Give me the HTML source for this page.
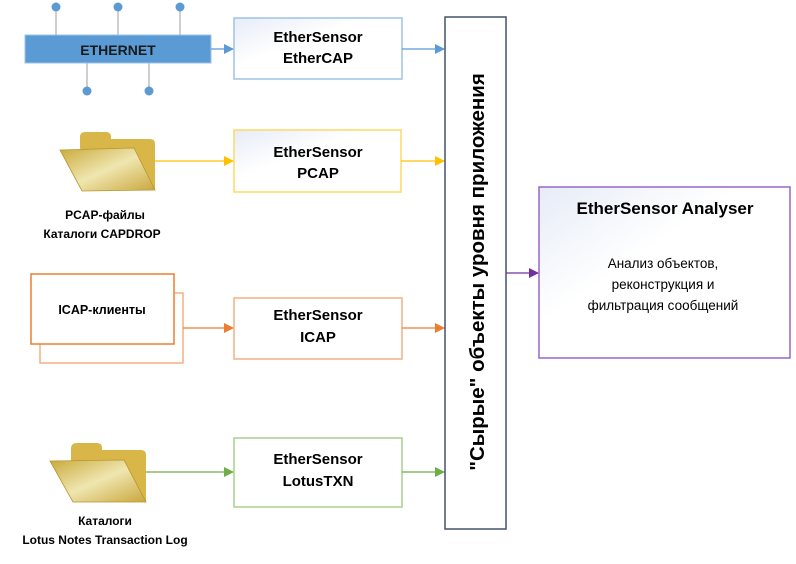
<!DOCTYPE html>
<html><head><meta charset="utf-8"><style>
html,body{margin:0;padding:0;background:#fff;}
svg{display:block;font-family:"Liberation Sans","DejaVu Sans",sans-serif;}
</style></head><body>
<svg width="796" height="564" viewBox="0 0 796 564" xmlns="http://www.w3.org/2000/svg">
<defs>
<linearGradient id="g1" x1="0" y1="0" x2="1" y2="1"><stop offset="0" stop-color="#e6ecf7"/><stop offset="0.4" stop-color="#fff"/></linearGradient>
<linearGradient id="fold" x1="0" y1="0" x2="1" y2="1"><stop offset="0" stop-color="#c9a93a"/><stop offset="0.5" stop-color="#efe6b0"/><stop offset="1" stop-color="#caa63c"/></linearGradient>
<marker id="aB" markerWidth="10" markerHeight="10" refX="9" refY="5" orient="auto" markerUnits="userSpaceOnUse"><path d="M0,0 L10,5 L0,10z" fill="#5b9bd5"/></marker>
<marker id="aY" markerWidth="10" markerHeight="10" refX="9" refY="5" orient="auto" markerUnits="userSpaceOnUse"><path d="M0,0 L10,5 L0,10z" fill="#ffc000"/></marker>
<marker id="aO" markerWidth="10" markerHeight="10" refX="9" refY="5" orient="auto" markerUnits="userSpaceOnUse"><path d="M0,0 L10,5 L0,10z" fill="#ed7d31"/></marker>
<marker id="aG" markerWidth="10" markerHeight="10" refX="9" refY="5" orient="auto" markerUnits="userSpaceOnUse"><path d="M0,0 L10,5 L0,10z" fill="#70ad47"/></marker>
<marker id="aP" markerWidth="10" markerHeight="10" refX="9" refY="5" orient="auto" markerUnits="userSpaceOnUse"><path d="M0,0 L10,5 L0,10z" fill="#7030a0"/></marker>
</defs>

<g stroke="#bfbfbf" stroke-width="1.5">
<line x1="56" y1="7" x2="56" y2="35"/><line x1="118" y1="7" x2="118" y2="35"/><line x1="180" y1="7" x2="180" y2="35"/>
<line x1="87" y1="63" x2="87" y2="91"/><line x1="149" y1="63" x2="149" y2="91"/>
</g>
<g fill="#5b9bd5"><circle cx="56" cy="7" r="4.5"/><circle cx="118" cy="7" r="4.5"/><circle cx="180" cy="7" r="4.5"/><circle cx="87" cy="91" r="4.5"/><circle cx="149" cy="91" r="4.5"/></g>
<rect x="25" y="35" width="186" height="28" fill="#5b9bd5" stroke="#9dc3e6"/>
<text x="118" y="55" text-anchor="middle" font-size="14" font-weight="bold" fill="#1a1a1a">ETHERNET</text>

<rect x="234" y="18" width="168" height="61" fill="url(#g1)" stroke="#9dc3e6" stroke-width="1.5"/>
<text x="318" y="42" text-anchor="middle" font-size="15" font-weight="bold">EtherSensor</text>
<text x="318" y="63" text-anchor="middle" font-size="15" font-weight="bold">EtherCAP</text>

<rect x="234" y="130" width="167" height="62" fill="url(#g1)" stroke="#ffd966" stroke-width="1.5"/>
<text x="318" y="157" text-anchor="middle" font-size="15" font-weight="bold">EtherSensor</text>
<text x="318" y="178" text-anchor="middle" font-size="15" font-weight="bold">PCAP</text>

<rect x="234" y="298" width="168" height="61" fill="#fff" stroke="#f4b183" stroke-width="1.5"/>
<text x="318" y="320" text-anchor="middle" font-size="15" font-weight="bold">EtherSensor</text>
<text x="318" y="342" text-anchor="middle" font-size="15" font-weight="bold">ICAP</text>

<rect x="234" y="438" width="168" height="69" fill="#fff" stroke="#a9d18e" stroke-width="1.5"/>
<text x="318" y="464" text-anchor="middle" font-size="15" font-weight="bold">EtherSensor</text>
<text x="318" y="486" text-anchor="middle" font-size="15" font-weight="bold">LotusTXN</text>

<rect x="40" y="293" width="143" height="70" fill="#fff" stroke="#f4b183" stroke-width="1.5"/>
<rect x="31" y="274" width="143" height="70" fill="#fff" stroke="#ed7d31" stroke-width="1.5"/>
<text x="102" y="314" text-anchor="middle" font-size="12.5" font-weight="bold">ICAP-клиенты</text>

<g>
<path d="M80,148 L80,137 Q80,132 85,132 L106,132 Q111,132 111,137 L111,139 L150,139 Q155,139 155,144 L155,190 L100,190z" fill="#d9b648"/>
<path d="M60,150 L134,148 L155,190 L82,191z" fill="url(#fold)" stroke="#b8952e" stroke-width="0.8"/>
<text x="105" y="219" text-anchor="middle" font-size="12" font-weight="bold">PCAP-файлы</text>
<text x="102" y="238" text-anchor="middle" font-size="12" font-weight="bold">Каталоги CAPDROP</text>
</g>
<g>
<path d="M71,460 L71,449 Q71,443 77,443 L97,443 Q102,443 102,448 L102,450 L141,450 Q146,450 146,455 L146,501 L90,501z" fill="#d9b648"/>
<path d="M50,461 L124,460 L146,502 L73,502z" fill="url(#fold)" stroke="#b8952e" stroke-width="0.8"/>
<text x="105" y="525" text-anchor="middle" font-size="12" font-weight="bold">Каталоги</text>
<text x="105" y="544" text-anchor="middle" font-size="12" font-weight="bold">Lotus Notes Transaction Log</text>
</g>

<line x1="211" y1="49" x2="233" y2="49" stroke="#5b9bd5" stroke-width="1.2" marker-end="url(#aB)"/>
<line x1="402" y1="49" x2="444" y2="49" stroke="#5b9bd5" stroke-width="1.2" marker-end="url(#aB)"/>
<line x1="155" y1="161" x2="233" y2="161" stroke="#ffc000" stroke-width="1.2" marker-end="url(#aY)"/>
<line x1="401" y1="161" x2="444" y2="161" stroke="#ffc000" stroke-width="1.2" marker-end="url(#aY)"/>
<line x1="183" y1="328" x2="233" y2="328" stroke="#ed7d31" stroke-width="1.2" marker-end="url(#aO)"/>
<line x1="402" y1="328" x2="444" y2="328" stroke="#ed7d31" stroke-width="1.2" marker-end="url(#aO)"/>
<line x1="146" y1="472" x2="233" y2="472" stroke="#70ad47" stroke-width="1.2" marker-end="url(#aG)"/>
<line x1="402" y1="472" x2="444" y2="472" stroke="#70ad47" stroke-width="1.2" marker-end="url(#aG)"/>
<line x1="506" y1="273" x2="538" y2="273" stroke="#7030a0" stroke-width="1.2" marker-end="url(#aP)"/>

<rect x="445" y="17" width="61" height="512" fill="#fff" stroke="#44546a" stroke-width="1.5"/>
<text transform="translate(484,272) rotate(-90)" text-anchor="middle" font-size="20.5" font-weight="bold">"Сырые" объекты уровня приложения</text>

<rect x="539" y="187" width="251" height="171" fill="url(#g1)" stroke="#9966cc" stroke-width="1.5"/>
<text x="665" y="214" text-anchor="middle" font-size="17" font-weight="bold">EtherSensor Analyser</text>
<text x="663" y="268" text-anchor="middle" font-size="13.5">Анализ объектов,</text>
<text x="663" y="289" text-anchor="middle" font-size="13.5">реконструкция и</text>
<text x="663" y="310" text-anchor="middle" font-size="13.5">фильтрация сообщений</text>
</svg>
</body></html>
